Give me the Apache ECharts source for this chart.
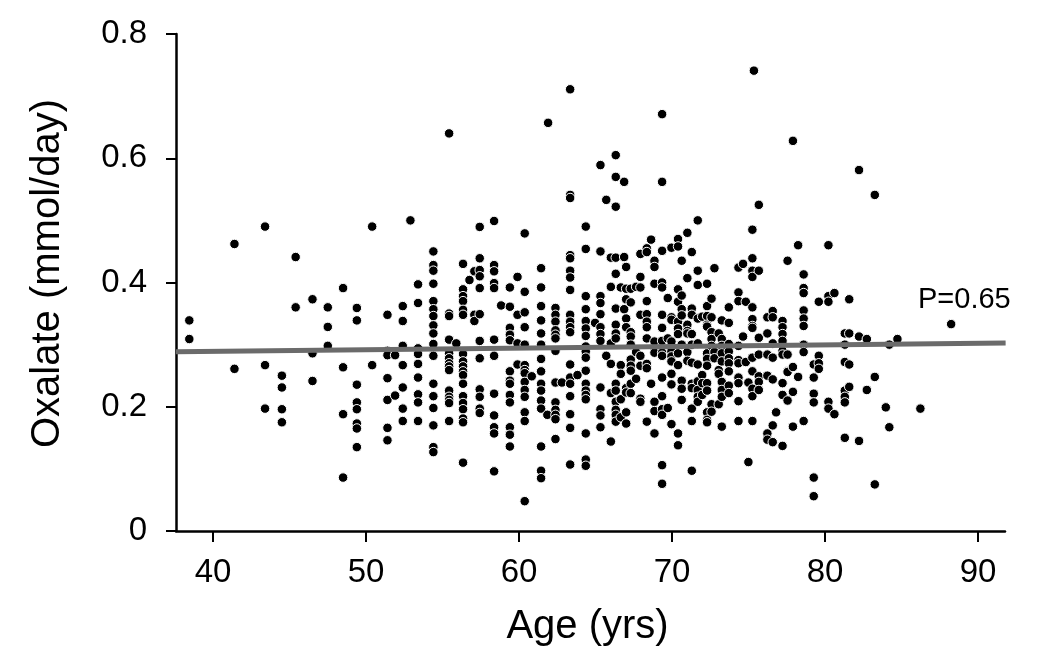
<!DOCTYPE html>
<html>
<head>
<meta charset="utf-8">
<style>
  html, body { margin: 0; background: #fff; }
  #chart { width: 1050px; height: 656px; }
</style>
</head>
<body>
<div id="chart"></div>
<script src="https://cdn.jsdelivr.net/npm/echarts@6/dist/echarts.min.js"></script>
<script>
const xTicks = [40, 50, 60, 70, 80, 90]
const yTicks = [0, 0.2, 0.4, 0.6, 0.8]
const yTickLabels = ['0', '0.2', '0.4', '0.6', '0.8']

// 추세선 양 끝 [나이, 옥살산]
const trendLine = [[37.58, 0.2887], [91.8, 0.3027]]

// 세로 열로 읽은 점: [나이, 옥살산, 옥살산, ...]
const columnsEarly = [
  [38.45, 0.339, 0.309],
  [41.4, 0.462, 0.261],
  [43.4, 0.49, 0.267, 0.197],
  [44.5, 0.25, 0.231, 0.196, 0.175],
  [45.4, 0.441, 0.36],
  [46.5, 0.373, 0.286, 0.2415],
  [47.5, 0.36, 0.3285, 0.298],
  [48.5, 0.391, 0.2635, 0.188, 0.086],
  [49.4, 0.359, 0.339, 0.2355, 0.207, 0.196, 0.173, 0.165, 0.135],
  [50.4, 0.49, 0.267],
  [51.4, 0.348, 0.29, 0.283, 0.246, 0.211, 0.166, 0.146],
  [51.9, 0.283, 0.218],
  [52.4, 0.362, 0.338, 0.298, 0.267, 0.231, 0.197, 0.177],
  [52.9, 0.5],
  [53.4, 0.397, 0.367, 0.294, 0.285, 0.269, 0.247, 0.22, 0.207, 0.177],
  [54.4, 0.45, 0.428, 0.419, 0.398, 0.37, 0.357, 0.346, 0.331, 0.318, 0.301, 0.282, 0.237, 0.217, 0.198, 0.17, 0.135, 0.127]
]
const columnsMiddle = [
  [55.43, 0.64, 0.35, 0.346, 0.308, 0.286, 0.278, 0.27, 0.265, 0.259, 0.226, 0.216, 0.211, 0.206, 0.177],
  [55.9, 0.302],
  [56.34, 0.43, 0.389, 0.378, 0.37, 0.356, 0.348, 0.285, 0.273, 0.265, 0.257, 0.251, 0.237, 0.217, 0.206, 0.196, 0.181, 0.175, 0.11],
  [56.76, 0.404],
  [57.08, 0.418, 0.348, 0.338],
  [57.43, 0.4895, 0.439, 0.42, 0.41, 0.391, 0.349, 0.306, 0.278, 0.228, 0.216, 0.197, 0.19],
  [58.37, 0.499, 0.428, 0.418, 0.399, 0.391, 0.308, 0.282, 0.221, 0.186, 0.167, 0.157, 0.096],
  [58.83, 0.363],
  [59.4, 0.392, 0.361, 0.327, 0.316, 0.307, 0.257, 0.242, 0.237, 0.219, 0.207, 0.167, 0.155, 0.136],
  [59.9, 0.409, 0.348, 0.302, 0.268],
  [60.37, 0.479, 0.385, 0.352, 0.328, 0.3, 0.267, 0.259, 0.254, 0.24, 0.227, 0.216, 0.191, 0.177, 0.048],
  [60.83, 0.249],
  [61.44, 0.423, 0.392, 0.362, 0.339, 0.318, 0.3, 0.277, 0.257, 0.237, 0.226, 0.21, 0.197, 0.136, 0.097, 0.085],
  [61.85, 0.187],
  [61.9, 0.657],
  [62.38, 0.359, 0.348, 0.337, 0.323, 0.316, 0.31, 0.29, 0.239, 0.207, 0.195, 0.187, 0.18, 0.148],
  [62.8, 0.239],
  [63.34, 0.711, 0.541, 0.536, 0.444, 0.439, 0.419, 0.408, 0.388, 0.348, 0.337, 0.328, 0.32, 0.268, 0.247, 0.237, 0.217, 0.188, 0.166, 0.107],
  [63.82, 0.251],
  [64.36, 0.49, 0.454, 0.378, 0.357, 0.338, 0.326, 0.314, 0.297, 0.289, 0.279, 0.258, 0.237, 0.226, 0.219, 0.212, 0.157, 0.115, 0.105],
  [64.97, 0.335],
  [65.32, 0.589, 0.45, 0.378, 0.367, 0.349, 0.328, 0.317, 0.306, 0.231, 0.196, 0.186, 0.167],
  [65.7, 0.533, 0.282],
  [66.0, 0.44, 0.393, 0.302, 0.269, 0.222, 0.144],
  [66.32, 0.605, 0.57, 0.522, 0.44, 0.414, 0.358, 0.332, 0.318, 0.31, 0.237, 0.226, 0.208, 0.195, 0.187, 0.176],
  [66.65, 0.392, 0.267, 0.253, 0.212, 0.183],
  [66.87, 0.562, 0.441, 0.357],
  [67.0, 0.425, 0.39, 0.373, 0.342, 0.328, 0.23, 0.223, 0.191, 0.173],
  [67.3, 0.39, 0.368, 0.32, 0.313, 0.3, 0.276, 0.266, 0.258, 0.237, 0.222],
  [67.65, 0.393, 0.288, 0.245],
  [67.93, 0.446, 0.409, 0.392, 0.348, 0.282, 0.266, 0.213, 0.208],
  [68.35, 0.455, 0.449, 0.37, 0.349, 0.337, 0.328, 0.31, 0.269, 0.262, 0.176],
  [68.63, 0.469, 0.237],
  [68.85, 0.435, 0.425, 0.398, 0.305, 0.287, 0.208, 0.193, 0.157]
]
const columnsLate = [
  [69.35, 0.671, 0.562, 0.451, 0.4, 0.392, 0.348, 0.327, 0.306, 0.287, 0.282, 0.247, 0.217, 0.196, 0.187, 0.106, 0.076],
  [69.72, 0.375, 0.31, 0.198],
  [69.96, 0.456, 0.344, 0.34, 0.305, 0.289, 0.281, 0.273, 0.253, 0.236, 0.172],
  [70.39, 0.47, 0.458, 0.389, 0.369, 0.337, 0.326, 0.317, 0.286, 0.267, 0.157, 0.138],
  [70.63, 0.435, 0.379, 0.357, 0.347, 0.3, 0.242, 0.229, 0.211],
  [71.0, 0.48, 0.407, 0.332, 0.322, 0.318, 0.288, 0.274],
  [71.29, 0.449, 0.358, 0.348, 0.317, 0.3, 0.271, 0.237, 0.23, 0.197, 0.177, 0.097],
  [71.68, 0.5, 0.419, 0.396, 0.342, 0.302, 0.268, 0.241, 0.227, 0.216, 0.208],
  [71.97, 0.345, 0.251, 0.238, 0.219],
  [72.29, 0.398, 0.362, 0.346, 0.332, 0.329, 0.286, 0.277, 0.266, 0.238, 0.226, 0.191, 0.179, 0.175],
  [72.58, 0.374, 0.344, 0.32, 0.309, 0.298, 0.204, 0.192],
  [72.77, 0.423, 0.288, 0.278],
  [73.05, 0.318, 0.259, 0.253, 0.204],
  [73.25, 0.339, 0.309, 0.298, 0.286, 0.273, 0.24, 0.227, 0.216, 0.168],
  [73.71, 0.36, 0.335, 0.301, 0.289, 0.278, 0.27, 0.257, 0.234, 0.222],
  [74.34, 0.424, 0.384, 0.37, 0.298, 0.275, 0.27, 0.247, 0.238, 0.209, 0.177],
  [74.64, 0.43, 0.313],
  [74.82, 0.369, 0.272],
  [74.99, 0.239, 0.111],
  [75.25, 0.485, 0.439, 0.419, 0.409, 0.36, 0.341, 0.33, 0.327, 0.279, 0.257, 0.229, 0.217, 0.177],
  [75.35, 0.741],
  [75.67, 0.525, 0.419, 0.311, 0.284, 0.249, 0.24, 0.227],
  [76.23, 0.344, 0.318, 0.284, 0.25, 0.157, 0.147],
  [76.58, 0.354, 0.344, 0.302, 0.279, 0.244, 0.17, 0.143],
  [76.8, 0.191],
  [77.22, 0.338, 0.328, 0.317, 0.306, 0.29, 0.284, 0.238, 0.219, 0.137],
  [77.55, 0.435, 0.284, 0.257, 0.256, 0.21],
  [77.9, 0.628, 0.264, 0.224, 0.168],
  [78.24, 0.46, 0.248],
  [78.6, 0.413, 0.391, 0.383, 0.355, 0.342, 0.33, 0.3, 0.288, 0.177],
  [79.26, 0.268, 0.247, 0.221, 0.207, 0.086, 0.056],
  [79.59, 0.369, 0.282, 0.27, 0.261],
  [80.22, 0.46, 0.378, 0.369, 0.208, 0.197],
  [80.61, 0.383, 0.188],
  [81.29, 0.318, 0.3, 0.272, 0.226, 0.216, 0.207, 0.15],
  [81.58, 0.373, 0.318, 0.268, 0.232],
  [82.22, 0.581, 0.313, 0.145],
  [82.73, 0.309, 0.227],
  [83.25, 0.541, 0.248, 0.075],
  [83.97, 0.199],
  [84.2, 0.3, 0.167],
  [84.73, 0.309],
  [86.23, 0.197],
  [88.24, 0.333]
]

const toPoints = columns =>
  columns.flatMap(([age, ...values]) => values.map(v => [age, v]))

const scatterData = toPoints([...columnsEarly, ...columnsMiddle, ...columnsLate])

const textFont = '"Liberation Sans", Arial, sans-serif'
const axisLine = { show: true, onZero: false, lineStyle: { color: '#000', width: 2.5 } }

const chart = echarts.init(document.getElementById('chart'))
chart.setOption({
  animation: false,
  backgroundColor: '#fff',
  textStyle: { fontFamily: textFont },
  grid: { left: 176, right: 45, top: 34, bottom: 125 },
  title: {
    text: 'P=0.65',
    left: 918,
    top: 285,
    padding: 0,
    textStyle: { fontSize: 29, fontWeight: 'normal', color: '#000', fontFamily: textFont }
  },
  xAxis: {
    type: 'value',
    min: 37.58,
    max: 91.76,
    name: 'Age (yrs)',
    nameLocation: 'middle',
    nameGap: 76,
    nameTextStyle: { fontSize: 40, color: '#000', fontFamily: textFont, padding: [0, 6, 0, 0] },
    splitLine: { show: false },
    axisLine,
    axisTick: { show: true, length: 11, lineStyle: { color: '#000', width: 2 }, customValues: xTicks },
    axisLabel: { fontSize: 33, color: '#000', margin: 25, customValues: xTicks }
  },
  yAxis: {
    type: 'value',
    min: 0,
    max: 0.8,
    name: 'Oxalate (mmol/day)',
    nameLocation: 'middle',
    nameGap: 108,
    nameTextStyle: { fontSize: 40, color: '#000', fontFamily: textFont, padding: [0, 0, 0, 18] },
    splitLine: { show: false },
    axisLine,
    axisTick: { show: true, length: 10, lineStyle: { color: '#000', width: 2 }, customValues: yTicks },
    axisLabel: {
      fontSize: 33,
      color: '#000',
      margin: 29,
      customValues: yTicks,
      formatter: v => yTickLabels[yTicks.indexOf(v)]
    }
  },
  series: [
    {
      type: 'scatter',
      data: scatterData,
      symbol: 'circle',
      symbolSize: 9.5,
      itemStyle: { color: '#000', borderColor: '#fff', borderWidth: 1, opacity: 1 },
      z: 2
    },
    {
      type: 'line',
      data: trendLine,
      symbol: 'none',
      lineStyle: { color: '#6b6b6b', width: 5 },
      z: 3
    }
  ]
})
</script>
</body>
</html>
